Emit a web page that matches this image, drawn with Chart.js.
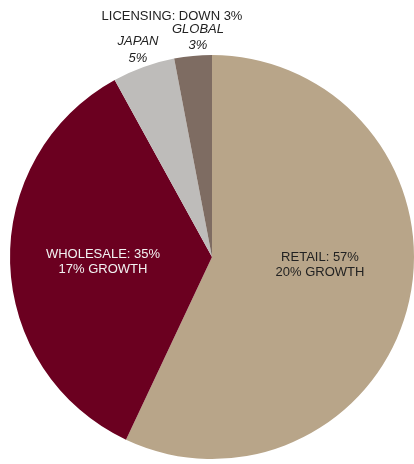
<!DOCTYPE html>
<html>
<head>
<meta charset="utf-8">
<script src="https://cdn.jsdelivr.net/npm/chart.js@4.4.1/dist/chart.umd.min.js"></script>
<style>
  html, body { margin: 0; padding: 0; background: #fff; }
  canvas { display: block; }
</style>
</head>
<body>
<canvas id="salesPie" width="414" height="464"></canvas>
<script>
// segment shares of sales, clockwise from 12 o'clock
const segments = ["RETAIL", "WHOLESALE", "JAPAN", "GLOBAL"]
const shares = [57, 35, 5, 3]
const growthNotes = ["20% GROWTH", "17% GROWTH", null, null]
const licensingNote = "LICENSING: DOWN 3%"

const sliceColors = ["#b8a589", "#6b0020", "#bebcba", "#7e6c62"]

// text for each slice; offsets are px from the pie centre, y = baseline
const sliceLabels = [
  { lines: [segments[0] + ": " + shares[0] + "%", growthNotes[0]], dx: 108, dy: [4, 19], color: "#222", italic: false },
  { lines: [segments[1] + ": " + shares[1] + "%", growthNotes[1]], dx: -109, dy: [1, 16], color: "#f2f2f2", italic: false },
  { lines: [segments[2], shares[2] + "%"], dx: -74, dy: [-212, -195], color: "#222", italic: true },
  { lines: [segments[3], shares[3] + "%"], dx: -14, dy: [-224, -208], color: "#222", italic: true },
]

const pieLabels = {
  id: "pieLabels",
  afterDatasetsDraw(chart) {
    const ctx = chart.ctx
    const arc = chart.getDatasetMeta(0).data[0]
    const cx = arc.x
    const cy = arc.y
    ctx.save()
    ctx.textAlign = "center"
    ctx.textBaseline = "alphabetic"
    sliceLabels.forEach((lbl) => {
      ctx.font = (lbl.italic ? "italic " : "") + "13px 'Liberation Sans', Arial, sans-serif"
      ctx.fillStyle = lbl.color
      lbl.lines.forEach((txt, i) => {
        ctx.fillText(txt, cx + lbl.dx, cy + lbl.dy[i])
      })
    })
    // licensing note sits above the small slices
    ctx.font = "13px 'Liberation Sans', Arial, sans-serif"
    ctx.fillStyle = "#222"
    ctx.fillText(licensingNote, cx - 40, cy - 237)
    ctx.restore()
  },
}

new Chart(document.getElementById("salesPie"), {
  type: "pie",
  data: {
    labels: segments,
    datasets: [
      {
        data: shares,
        backgroundColor: sliceColors,
        borderWidth: 0,
      },
    ],
  },
  options: {
    responsive: false,
    animation: false,
    layout: {
      padding: { left: 10, right: 0, top: 53, bottom: 3 },
    },
    plugins: {
      legend: { display: false },
      tooltip: { enabled: false },
    },
  },
  plugins: [pieLabels],
})
</script>
</body>
</html>
